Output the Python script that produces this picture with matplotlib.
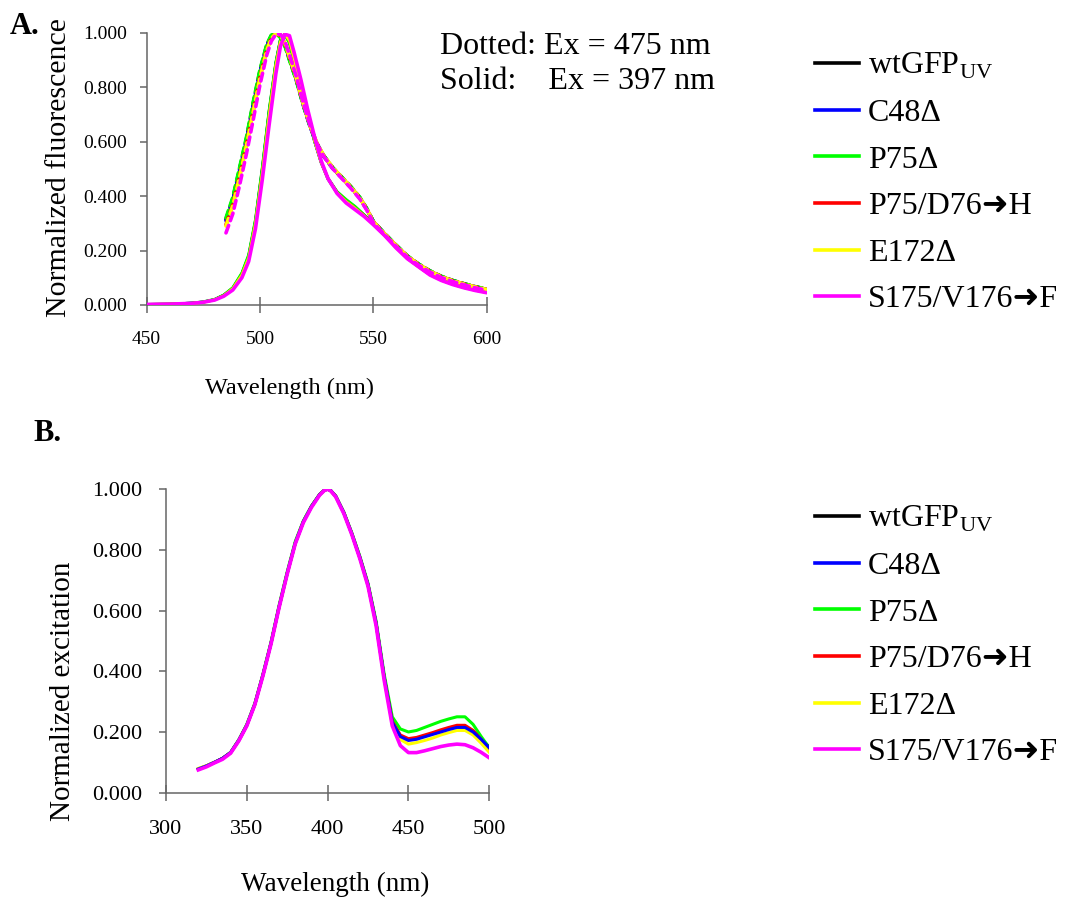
import matplotlib
matplotlib.use("Agg")
import matplotlib.pyplot as plt
from matplotlib.lines import Line2D

plt.rcParams['font.family'] = ['Liberation Serif', 'DejaVu Sans']
plt.rcParams['mathtext.fontset'] = 'custom'
plt.rcParams['mathtext.rm'] = 'Liberation Serif'

# ---------- DATA ----------
names = [r'wtGFP$_\mathrm{UV}$', 'C48Δ', 'P75Δ', 'P75/D76➜H', 'E172Δ', 'S175/V176➜F']
colors = ['#000000', '#0000ff', '#00ff00', '#ff0000', '#ffff00', '#ff00ff']

# A. emission, Ex = 397 nm (solid)
wl_solid = [450, 460, 470, 475, 480, 484, 488, 492, 495, 498, 501, 504, 507, 509, 511, 513,
            515, 518, 521, 524, 527, 530, 534, 538, 542, 546, 550, 555, 560, 565, 570, 575,
            580, 585, 590, 595, 600]
em397_wt = [0.002, 0.003, 0.007, 0.011, 0.020, 0.036, 0.062, 0.115, 0.18, 0.31, 0.50, 0.71,
            0.89, 0.975, 0.995, 0.965, 0.90, 0.80, 0.70, 0.605, 0.525, 0.465, 0.415, 0.385,
            0.36, 0.33, 0.298, 0.258, 0.213, 0.173, 0.142, 0.113, 0.093, 0.078, 0.066, 0.056, 0.048]
em397_c48 = [0.002, 0.003, 0.007, 0.011, 0.020, 0.035, 0.061, 0.113, 0.178, 0.305, 0.495, 0.705,
             0.887, 0.973, 0.996, 0.967, 0.902, 0.802, 0.70, 0.603, 0.522, 0.462, 0.412, 0.383,
             0.358, 0.328, 0.297, 0.257, 0.212, 0.172, 0.141, 0.112, 0.092, 0.077, 0.065, 0.055, 0.047]
em397_p75 = [0.002, 0.003, 0.007, 0.012, 0.021, 0.037, 0.064, 0.118, 0.185, 0.315, 0.505, 0.715,
             0.893, 0.977, 0.994, 0.962, 0.897, 0.797, 0.698, 0.604, 0.525, 0.466, 0.417, 0.388,
             0.362, 0.331, 0.299, 0.259, 0.214, 0.174, 0.143, 0.114, 0.094, 0.079, 0.067, 0.057, 0.049]
em397_d76 = [0.002, 0.003, 0.006, 0.010, 0.019, 0.034, 0.059, 0.108, 0.17, 0.295, 0.48, 0.69,
             0.875, 0.965, 0.997, 0.975, 0.91, 0.81, 0.705, 0.608, 0.525, 0.464, 0.413, 0.38,
             0.355, 0.328, 0.296, 0.256, 0.211, 0.171, 0.14, 0.111, 0.091, 0.076, 0.064, 0.054, 0.046]
em397_e172 = [0.002, 0.003, 0.006, 0.010, 0.019, 0.034, 0.060, 0.110, 0.173, 0.30, 0.485, 0.695,
              0.88, 0.968, 0.996, 0.972, 0.907, 0.807, 0.703, 0.606, 0.524, 0.463, 0.412, 0.38,
              0.355, 0.327, 0.296, 0.256, 0.211, 0.171, 0.14, 0.111, 0.091, 0.076, 0.064, 0.054, 0.046]
em397_s175 = [0.002, 0.003, 0.006, 0.010, 0.018, 0.032, 0.055, 0.10, 0.16, 0.28, 0.46, 0.66,
              0.85, 0.95, 0.995, 0.99, 0.93, 0.83, 0.72, 0.62, 0.53, 0.465, 0.41, 0.375,
              0.35, 0.325, 0.295, 0.255, 0.21, 0.17, 0.14, 0.11, 0.09, 0.075, 0.063, 0.053, 0.045]

# A. emission, Ex = 475 nm (dotted)
wl_dot = [485, 488, 491, 494, 497, 500, 503, 505, 507, 509, 511, 513, 516, 519, 522, 525, 528,
          532, 536, 540, 544, 547, 550, 555, 560, 565, 570, 575, 580, 585, 590, 595, 600]
em475_wt = [0.315, 0.39, 0.50, 0.61, 0.74, 0.86, 0.955, 0.99, 1.0, 0.985, 0.955, 0.905, 0.83,
            0.74, 0.66, 0.595, 0.55, 0.505, 0.47, 0.435, 0.395, 0.355, 0.307, 0.262, 0.22,
            0.18, 0.15, 0.125, 0.105, 0.09, 0.078, 0.067, 0.058]
em475_c48 = [0.31, 0.385, 0.495, 0.605, 0.735, 0.855, 0.952, 0.988, 1.0, 0.986, 0.956, 0.903,
             0.828, 0.738, 0.658, 0.593, 0.548, 0.503, 0.468, 0.433, 0.393, 0.353, 0.306, 0.261,
             0.219, 0.179, 0.149, 0.124, 0.104, 0.089, 0.077, 0.066, 0.057]
em475_p75 = [0.32, 0.395, 0.505, 0.615, 0.745, 0.865, 0.958, 0.992, 1.0, 0.983, 0.952, 0.9,
             0.826, 0.737, 0.658, 0.594, 0.55, 0.506, 0.471, 0.436, 0.396, 0.356, 0.307, 0.262,
             0.22, 0.18, 0.15, 0.125, 0.105, 0.09, 0.078, 0.067, 0.058]
em475_d76 = [0.295, 0.37, 0.475, 0.59, 0.715, 0.84, 0.94, 0.982, 0.998, 0.99, 0.962, 0.91,
             0.833, 0.742, 0.661, 0.596, 0.55, 0.505, 0.469, 0.434, 0.394, 0.354, 0.306, 0.261,
             0.219, 0.179, 0.149, 0.124, 0.104, 0.089, 0.077, 0.066, 0.057]
em475_e172 = [0.29, 0.365, 0.47, 0.585, 0.71, 0.835, 0.937, 0.98, 0.998, 0.991, 0.963, 0.912,
              0.835, 0.743, 0.662, 0.597, 0.551, 0.506, 0.47, 0.434, 0.394, 0.354, 0.306, 0.261,
              0.219, 0.179, 0.149, 0.124, 0.104, 0.089, 0.077, 0.066, 0.057]
em475_s175 = [0.265, 0.335, 0.44, 0.555, 0.68, 0.81, 0.92, 0.97, 0.995, 0.996, 0.97, 0.92,
              0.84, 0.745, 0.662, 0.595, 0.548, 0.502, 0.466, 0.43, 0.39, 0.35, 0.303, 0.258,
              0.216, 0.176, 0.146, 0.121, 0.101, 0.086, 0.074, 0.063, 0.054]

# B. excitation spectra
wl_ex = [320, 325, 330, 335, 340, 345, 350, 355, 360, 365, 370, 375, 380, 385, 390, 395, 398,
         400, 402, 405, 410, 415, 420, 425, 430, 435, 440, 445, 450, 455, 460, 465, 470, 475,
         480, 485, 490, 495, 500]
ex_wt = [0.078, 0.088, 0.10, 0.113, 0.132, 0.172, 0.222, 0.292, 0.388, 0.493, 0.613, 0.723,
         0.823, 0.893, 0.943, 0.982, 0.997, 1.0, 0.995, 0.977, 0.923, 0.853, 0.774, 0.685, 0.558,
         0.38, 0.233, 0.187, 0.175, 0.179, 0.187, 0.195, 0.203, 0.211, 0.218, 0.218, 0.203,
         0.178, 0.15]
ex_c48 = [0.078, 0.088, 0.10, 0.113, 0.132, 0.172, 0.222, 0.292, 0.388, 0.493, 0.613, 0.723,
          0.823, 0.893, 0.943, 0.982, 0.997, 1.0, 0.995, 0.977, 0.923, 0.853, 0.774, 0.685, 0.558,
          0.38, 0.232, 0.185, 0.172, 0.176, 0.184, 0.192, 0.20, 0.208, 0.215, 0.215, 0.20,
          0.176, 0.148]
ex_p75 = [0.077, 0.087, 0.10, 0.113, 0.133, 0.174, 0.225, 0.295, 0.391, 0.497, 0.618, 0.728,
          0.828, 0.896, 0.945, 0.983, 0.997, 1.0, 0.996, 0.978, 0.925, 0.856, 0.778, 0.69, 0.565,
          0.39, 0.25, 0.21, 0.20, 0.205, 0.215, 0.225, 0.235, 0.243, 0.25, 0.25, 0.225,
          0.185, 0.148]
ex_d76 = [0.078, 0.088, 0.10, 0.113, 0.132, 0.172, 0.222, 0.292, 0.388, 0.493, 0.613, 0.723,
          0.823, 0.893, 0.943, 0.982, 0.997, 1.0, 0.995, 0.977, 0.923, 0.853, 0.774, 0.685, 0.558,
          0.38, 0.235, 0.19, 0.178, 0.182, 0.19, 0.198, 0.207, 0.215, 0.222, 0.222, 0.205,
          0.175, 0.142]
ex_e172 = [0.08, 0.089, 0.10, 0.112, 0.131, 0.171, 0.221, 0.291, 0.387, 0.492, 0.612, 0.722,
           0.822, 0.892, 0.942, 0.981, 0.997, 1.0, 0.994, 0.976, 0.922, 0.852, 0.772, 0.682,
           0.554, 0.375, 0.225, 0.175, 0.16, 0.165, 0.172, 0.18, 0.19, 0.198, 0.205, 0.205,
           0.19, 0.163, 0.133]
ex_s175 = [0.075, 0.085, 0.098, 0.11, 0.13, 0.17, 0.22, 0.29, 0.385, 0.49, 0.61, 0.72, 0.82,
           0.89, 0.94, 0.98, 0.996, 1.0, 0.994, 0.975, 0.92, 0.85, 0.77, 0.68, 0.55, 0.37, 0.22,
           0.155, 0.132, 0.132, 0.138, 0.145, 0.152, 0.157, 0.16, 0.158, 0.148, 0.133, 0.115]

em397 = [em397_wt, em397_c48, em397_p75, em397_d76, em397_e172, em397_s175]
em475 = [em475_wt, em475_c48, em475_p75, em475_d76, em475_e172, em475_s175]
ex_all = [ex_wt, ex_c48, ex_p75, ex_d76, ex_e172, ex_s175]

AXIS_GRAY = '#666666'


def style_axes(ax, xlim, xticks, tsize, xpad, ypad):
    ax.set_xlim(*xlim)
    ax.set_ylim(0, 1.0)
    ax.set_xticks(xticks)
    ax.set_yticks([0, 0.2, 0.4, 0.6, 0.8, 1.0])
    ax.set_yticklabels([f"{v:.3f}" for v in [0, 0.2, 0.4, 0.6, 0.8, 1.0]])
    for s in ['top', 'right']:
        ax.spines[s].set_visible(False)
    for s in ['left', 'bottom']:
        ax.spines[s].set_color(AXIS_GRAY)
        ax.spines[s].set_linewidth(1.1)
    ax.tick_params(axis='x', direction='inout', length=11, width=1.1, color=AXIS_GRAY,
                   labelsize=tsize, pad=xpad)
    ax.tick_params(axis='y', direction='out', length=5, width=1.1, color=AXIS_GRAY,
                   labelsize=tsize, pad=ypad)


fig = plt.figure(figsize=(10.68, 8.98), dpi=100)

# ---------- PANEL A ----------
axA = fig.add_axes([0.1373, 0.6604, 0.3184, 0.3029])
for i in range(6):
    lw = 2.6 if i == 5 else 2.0
    axA.plot(wl_solid, em397[i], color=colors[i], lw=lw, zorder=3 + (i == 5) * 3,
             solid_capstyle='round')
for i in range(6):
    axA.plot(wl_dot, em475[i], color=colors[i], lw=2.6, ls=(0, (2.2, 1.4)), zorder=4,
             dash_capstyle='round')
style_axes(axA, (450, 600), [450, 500, 550, 600], 14, 13, 9)
axA.set_xlabel('Wavelength (nm)', fontsize=17.5)
axA.xaxis.set_label_coords(0.419, -0.268)
axA.set_ylabel('Normalized fluorescence', fontsize=21.5)
axA.yaxis.set_label_coords(-0.22, 0.505)
fig.text(440 / 1068, 1 - 32 / 898, 'Dotted: Ex = 475 nm\nSolid:    Ex = 397 nm',
         fontsize=23, va='top', ha='left', linespacing=1.29)
fig.text(10 / 1068, 1 - 12 / 898, 'A.', fontsize=22, fontweight='bold', va='top', ha='left')

# ---------- PANEL B ----------
axB = fig.add_axes([0.1554, 0.1173, 0.3027, 0.3379])
order = [0, 2, 3, 4, 1, 5]
for i in order:
    lw = 2.6 if i == 5 else 2.2
    axB.plot(wl_ex, ex_all[i], color=colors[i], lw=lw, zorder=3)
style_axes(axB, (300, 500), [300, 350, 400, 450, 500], 16, 14, 12)
axB.set_xlabel('Wavelength (nm)', fontsize=19.5)
axB.xaxis.set_label_coords(0.523, -0.262)
axB.set_ylabel('Normalized excitation', fontsize=21)
axB.yaxis.set_label_coords(-0.279, 0.335)
fig.text(33 / 1068, 1 - 419 / 898, 'B.', fontsize=22, fontweight='bold', va='top', ha='left')

# ---------- LEGENDS ----------
handles = [Line2D([], [], color=c, lw=2.6) for c in colors]
for top_px in [51, 504]:
    fig.legend(handles, names, loc='upper left',
               bbox_to_anchor=(815 / 1068, 1 - top_px / 898),
               frameon=False, fontsize=23, handlelength=1.38, handletextpad=0.28,
               labelspacing=0.54, borderpad=0, borderaxespad=0)

plt.savefig('out.png', dpi=100)
